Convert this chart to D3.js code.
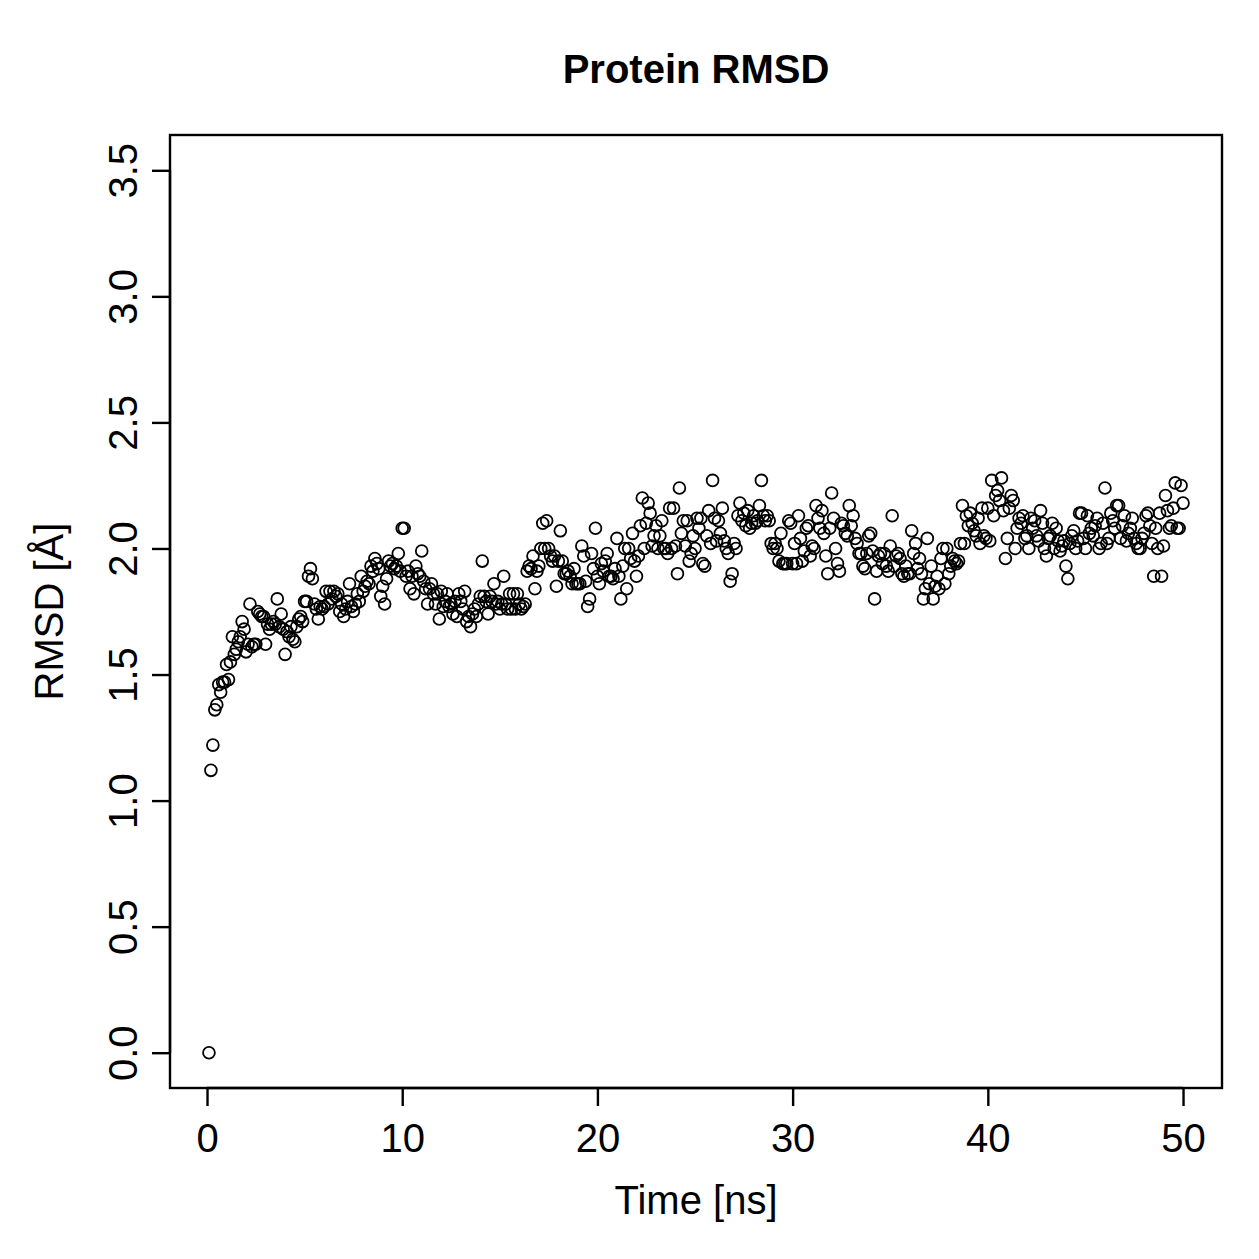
<!DOCTYPE html>
<html>
<head>
<meta charset="utf-8">
<script src="https://cdn.jsdelivr.net/npm/d3@7"></script>
<style>
  body { margin: 0; background: #fff; }
  text { font-family: "Liberation Sans", Arial, Helvetica, sans-serif; fill: #000; }
</style>
</head>
<body>
<div id="chart"></div>
<script>
/* Protein RMSD over a 50 ns trajectory, one frame every 0.1 ns */
var titleText = "Protein RMSD";
var xLabel = "Time [ns]";
var yLabel = "RMSD [Å]";
var xTicks = [0, 10, 20, 30, 40, 50];
var yTicks = [0.0, 0.5, 1.0, 1.5, 2.0, 2.5, 3.0, 3.5];
var timeStep = 0.1;

// RMSD values, ten frames per row (one row = 1 ns)
var rmsd = [
  0.00,1.12,1.22,1.36,1.38,1.46,1.43,1.47,1.47,1.54,
  1.48,1.55,1.65,1.58,1.60,1.63,1.65,1.71,1.68,1.59,
  1.62,1.78,1.61,1.62,1.62,1.75,1.74,1.73,1.73,1.62,
  1.70,1.68,1.70,1.71,1.70,1.80,1.69,1.74,1.68,1.58,
  1.67,1.65,1.69,1.64,1.63,1.69,1.72,1.73,1.71,1.79,
  1.79,1.89,1.92,1.88,1.78,1.76,1.72,1.77,1.76,1.77,
  1.83,1.78,1.83,1.80,1.83,1.81,1.82,1.75,1.78,1.73,
  1.76,1.79,1.86,1.77,1.75,1.78,1.82,1.79,1.89,1.83,
  1.85,1.87,1.86,1.93,1.91,1.96,1.94,1.92,1.81,1.85,
  1.78,1.88,1.95,1.93,1.94,1.92,1.93,1.98,1.91,2.08,
  2.08,1.89,1.91,1.84,1.89,1.82,1.93,1.90,1.89,1.99,
  1.87,1.84,1.78,1.84,1.86,1.82,1.78,1.82,1.72,1.83,
  1.77,1.79,1.82,1.77,1.78,1.74,1.79,1.73,1.82,1.79,
  1.76,1.83,1.71,1.73,1.69,1.74,1.76,1.73,1.78,1.81,
  1.95,1.81,1.79,1.74,1.81,1.79,1.86,1.78,1.79,1.76,
  1.78,1.89,1.78,1.76,1.82,1.76,1.82,1.76,1.82,1.78,
  1.76,1.77,1.78,1.91,1.93,1.92,1.97,1.84,1.91,1.93,
  2.00,2.10,2.00,2.11,2.00,1.97,1.95,1.97,1.85,1.95,
  2.07,1.95,1.90,1.90,1.91,1.89,1.86,1.92,1.86,1.86,
  1.86,2.01,1.97,1.87,1.77,1.80,1.98,1.92,2.08,1.89,
  1.86,1.94,1.91,1.95,1.98,1.89,1.89,1.88,1.92,2.04,
  1.89,1.80,1.93,2.00,1.84,2.00,1.96,2.06,1.95,1.89,
  1.97,2.09,2.20,2.00,2.10,2.18,2.14,2.01,2.05,2.09,
  2.00,2.05,2.11,2.00,2.00,1.98,2.16,2.00,2.16,2.01,
  1.90,2.24,2.06,2.11,2.01,2.11,1.95,1.98,2.05,2.00,
  2.12,2.08,2.12,1.94,1.93,2.05,2.15,2.02,2.27,2.12,
  2.03,2.11,2.06,2.16,2.03,2.00,1.98,1.87,1.90,2.02,
  2.00,2.13,2.18,2.11,2.14,2.09,2.15,2.08,2.10,2.13,
  2.10,2.11,2.17,2.27,2.13,2.11,2.13,2.11,2.02,2.00,
  2.02,2.00,1.95,2.06,1.94,1.94,1.94,2.11,2.10,1.94,
  2.02,1.94,2.13,2.04,1.95,1.99,2.08,2.09,1.97,2.01,
  2.00,2.17,2.12,2.08,2.15,2.06,1.97,1.90,2.08,2.22,
  2.12,2.00,1.94,1.91,2.10,2.09,2.06,2.05,2.17,2.09,
  2.13,2.04,2.02,1.98,1.98,1.93,1.92,1.98,2.05,2.06,
  1.99,1.80,1.91,1.97,1.98,1.94,1.98,1.93,1.91,2.01,
  2.13,1.93,1.97,1.98,1.96,1.90,1.89,1.93,1.90,1.90,
  2.07,1.98,2.02,1.92,1.96,1.90,1.80,1.84,2.04,1.86,
  1.93,1.80,1.85,1.89,1.84,1.96,2.00,1.86,2.00,1.90,
  1.93,1.96,1.95,1.94,1.95,2.02,2.17,2.02,2.13,2.09,
  2.14,2.10,2.07,2.05,2.12,2.02,2.16,2.05,2.04,2.16,
  2.03,2.27,2.13,2.21,2.23,2.19,2.28,2.15,1.96,2.04,
  2.16,2.21,2.19,2.00,2.08,2.12,2.10,2.13,2.04,2.05,
  2.00,2.12,2.08,2.11,2.05,2.03,2.15,2.10,2.00,1.97,
  2.04,2.05,2.10,2.00,2.08,2.03,1.99,2.01,2.03,1.93,
  1.88,2.02,2.05,2.07,2.00,2.03,2.14,2.14,2.04,2.00,
  2.13,2.06,2.08,2.05,2.09,2.12,2.00,2.02,2.10,2.24,
  2.02,2.04,2.14,2.11,2.08,2.17,2.17,2.04,2.09,2.13,
  2.03,2.06,2.08,2.12,2.04,2.02,2.00,2.00,2.04,2.06,
  2.13,2.14,2.09,2.02,1.89,2.08,2.00,2.14,1.89,2.01,
  2.21,2.15,2.08,2.09,2.16,2.26,2.08,2.08,2.25,2.18
];

var points = rmsd.map(function (v, i) {
    return {t: +((i + 1) * timeStep).toFixed(1), r: v};
});

var width = 1259, height = 1259;
var margin = {top: 135, right: 37, bottom: 171, left: 170};
var plotW = width - margin.left - margin.right,
    plotH = height - margin.top - margin.bottom;

var svg = d3.select("#chart").append("svg")
    .attr("width", width)
    .attr("height", height)
    .style("background", "#fff");

// R style 4% padding around data / limits
var xMin = d3.min(points, function (d) { return d.t; }),
    xMax = d3.max(points, function (d) { return d.t; });
var xPad = (xMax - xMin) * 0.04;
var x = d3.scaleLinear().domain([xMin - xPad, xMax + xPad]).range([0, plotW]);

var yPad = 3.5 * 0.04;
var y = d3.scaleLinear().domain([0 - yPad, 3.5 + yPad]).range([plotH, 0]);

var g = svg.append("g")
    .attr("transform", "translate(" + margin.left + "," + margin.top + ")");

// points
g.selectAll("circle.pt")
    .data(points)
    .enter().append("circle")
    .attr("class", "pt")
    .attr("cx", function (d) { return x(d.t); })
    .attr("cy", function (d) { return y(d.r); })
    .attr("r", 5.9)
    .attr("fill", "none")
    .attr("stroke", "#000")
    .attr("stroke-width", 1.8);

// box
g.append("rect")
    .attr("width", plotW)
    .attr("height", plotH)
    .attr("fill", "none")
    .attr("stroke", "#000")
    .attr("stroke-width", 2.4);

// x axis
var xAxis = g.append("g")
    .attr("transform", "translate(0," + plotH + ")")
    .call(d3.axisBottom(x).tickValues(xTicks).tickSize(18).tickSizeOuter(0).tickFormat(d3.format("d")));
xAxis.select(".domain").remove();
xAxis.append("line")
    .attr("x1", x(xTicks[0])).attr("x2", x(xTicks[xTicks.length - 1]))
    .attr("stroke", "#000").attr("stroke-width", 2.4);
xAxis.selectAll(".tick line").attr("stroke-width", 2.4);
xAxis.selectAll(".tick text")
    .attr("y", 64).attr("dy", null)
    .style("font-size", "40px")
    .style("font-family", "Liberation Sans, Arial, sans-serif");

// y axis
var yAxis = g.append("g")
    .call(d3.axisLeft(y).tickValues(yTicks).tickSize(18).tickSizeOuter(0).tickFormat(d3.format(".1f")));
yAxis.select(".domain").remove();
yAxis.append("line")
    .attr("y1", y(yTicks[0])).attr("y2", y(yTicks[yTicks.length - 1]))
    .attr("stroke", "#000").attr("stroke-width", 2.4);
yAxis.selectAll(".tick line").attr("stroke-width", 2.4);
yAxis.selectAll(".tick text")
    .attr("x", null).attr("dy", null)
    .attr("text-anchor", "middle")
    .attr("transform", "translate(-33,0) rotate(-90)")
    .style("font-size", "40px")
    .style("font-family", "Liberation Sans, Arial, sans-serif");

// labels
svg.append("text")
    .attr("x", margin.left + plotW / 2)
    .attr("y", 83)
    .attr("text-anchor", "middle")
    .style("font-size", "40px")
    .style("font-weight", "bold")
    .text(titleText);

svg.append("text")
    .attr("x", margin.left + plotW / 2)
    .attr("y", 1214)
    .attr("text-anchor", "middle")
    .style("font-size", "40px")
    .text(xLabel);

svg.append("text")
    .attr("transform", "translate(63," + (margin.top + plotH / 2) + ") rotate(-90)")
    .attr("text-anchor", "middle")
    .style("font-size", "40px")
    .text(yLabel);
</script>
</body>
</html>
